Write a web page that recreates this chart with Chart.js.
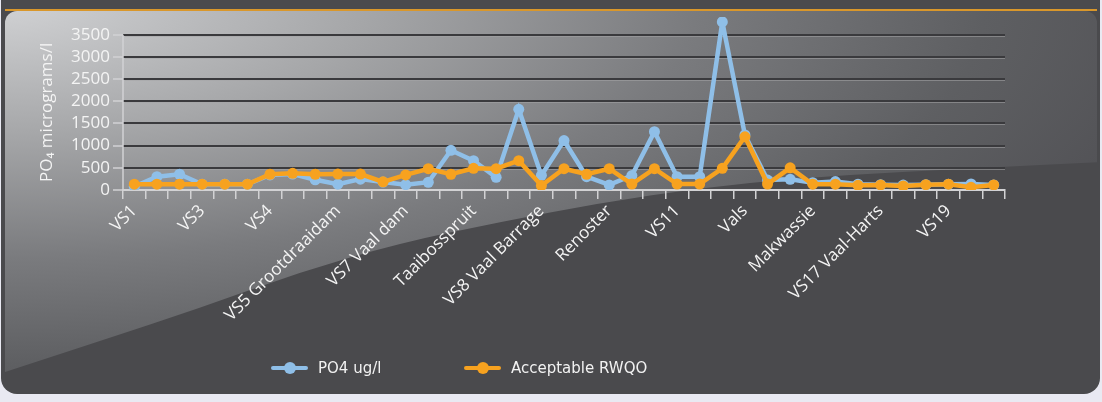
<!DOCTYPE html>
<html>
<head>
<meta charset="utf-8">
<script src="https://cdn.jsdelivr.net/npm/chart.js@4.4.0/dist/chart.umd.min.js"></script>
<style>
  html, body { margin: 0; padding: 0; background: #e9e9f2; }
  #wrap { position: relative; width: 1102px; height: 402px; }
  #legend { position: absolute; left: 0; top: 359px; width: 1102px; font: 15px "DejaVu Sans", sans-serif; color: #f2f2f2; }
  .item { position: absolute; top: 0; display: flex; align-items: center; white-space: nowrap; }
  .mark { position: relative; width: 37px; height: 4px; border-radius: 2px; margin-right: 10px; }
  .mark i { position: absolute; left: 13px; top: -4px; width: 12px; height: 12px; border-radius: 50%; }
</style>
</head>
<body>
<div id="wrap">
  <canvas id="canvas" width="1102" height="402"></canvas>
  <div id="legend"></div>
</div>
<script>
"use strict";

// sampling points along the river, only every third name is printed on the axis
var stations = [
  "VS1", "", "", "VS3", "", "", "VS4", "", "", "VS5 Grootdraaidam",
  "", "", "VS7 Vaal dam", "", "", "Taaibosspruit", "", "", "VS8 Vaal Barrage", "",
  "", "Renoster", "", "", "VS11", "", "", "Vals", "", "",
  "Makwassie", "", "", "VS17 Vaal-Harts", "", "", "VS19", "", ""
];

var po4 = [
  80, 300, 355, 130, 130, 130, 340, 360, 230, 130,
  245, 180, 120, 175, 895, 660, 285, 1820, 330, 1115,
  300, 115, 325, 1315, 300, 300, 3790, 1240, 225, 240,
  165, 190, 130, 120, 110, 120, 130, 135, 115
];

var rwqo = [
  130, 130, 130, 130, 130, 130, 355, 375, 355, 360,
  360, 185, 340, 480, 355, 490, 480, 660, 100, 480,
  355, 480, 135, 480, 135, 135, 490, 1200, 135, 500,
  130, 130, 105, 115, 90, 120, 130, 60, 115
];

var yTicks = [0, 500, 1000, 1500, 2000, 2500, 3000, 3500];
var yTitle = "PO\u2084 micrograms/l";

var txt = "#f4f4f4";
var axisGrey = "#d2d2d4";
var fontFam = '"Open Sans", sans-serif';

function smoothPath(ctx, pts) {
  ctx.lineTo(pts[0][0], pts[0][1]);
  for (var i = 1; i < pts.length - 1; i++) {
    var mx = (pts[i][0] + pts[i + 1][0]) / 2;
    var my = (pts[i][1] + pts[i + 1][1]) / 2;
    ctx.quadraticCurveTo(pts[i][0], pts[i][1], mx, my);
  }
  var last = pts[pts.length - 1];
  ctx.lineTo(last[0], last[1]);
}

// the grey panel behind the chart
var panelBg = {
  id: "panelBg",
  beforeDraw: function(chart) {
    var ctx = chart.ctx, w = chart.width, h = chart.height;
    ctx.save();
    ctx.fillStyle = "#e9e9f2";
    ctx.fillRect(0, 0, w, h);

    ctx.beginPath();
    ctx.roundRect(1, -20, w - 3, 414, 16);
    ctx.fillStyle = "#4a4a4d";
    ctx.fill();

    ctx.beginPath();
    ctx.roundRect(5, 11, w - 10, 381, 12);
    ctx.clip();

    var curve = [[5, 372], [100, 341], [200, 308], [300, 272], [400, 243], [500, 222],
                 [600, 203], [700, 188], [800, 178], [900, 172], [1000, 167], [1100, 162]];
    ctx.beginPath();
    ctx.moveTo(5, 11);
    smoothPath(ctx, curve);
    ctx.lineTo(1100, 11);
    ctx.closePath();

    ctx.save();
    ctx.scale(2.7, 1);
    var g = ctx.createRadialGradient(0, 0, 0, 0, 0, 445);
    g.addColorStop(0, "#d2d3d5");
    g.addColorStop(0.3, "#a6a7a9");
    g.addColorStop(0.58, "#7a7b7e");
    g.addColorStop(0.82, "#5e5f62");
    g.addColorStop(1, "#525256");
    ctx.fillStyle = g;
    ctx.fill();
    ctx.restore();

    ctx.restore();

    ctx.save();
    ctx.fillStyle = "#d9972b";
    ctx.fillRect(5, 9, w - 10, 2);
    ctx.restore();
  }
};

// light line under each dark grid line, the value axis line and its title
var gridShine = {
  id: "gridShine",
  beforeDatasetsDraw: function(chart) {
    var ctx = chart.ctx, area = chart.chartArea, y = chart.scales.y;
    var yTop = y.getPixelForValue(yTicks[yTicks.length - 1]);
    var yBot = y.getPixelForValue(0);
    ctx.save();
    ctx.strokeStyle = "rgba(165,165,168,0.55)";
    ctx.lineWidth = 1;
    y.ticks.forEach(function(t) {
      if (t.value === 0) return;
      var py = Math.round(y.getPixelForValue(t.value)) + 1.5;
      ctx.beginPath();
      ctx.moveTo(area.left + 2, py);
      ctx.lineTo(area.right, py);
      ctx.stroke();
    });
    ctx.strokeStyle = axisGrey;
    ctx.lineWidth = 1.5;
    ctx.beginPath();
    ctx.moveTo(area.left, yTop);
    ctx.lineTo(area.left, yBot);
    ctx.stroke();

    ctx.translate(y.left + 17, (yTop + yBot) / 2);
    ctx.rotate(-Math.PI / 2);
    ctx.fillStyle = txt;
    ctx.font = "17px " + fontFam;
    ctx.textAlign = "center";
    ctx.textBaseline = "middle";
    ctx.fillText(yTitle, 0, 0);
    ctx.restore();
  }
};

var ctx = document.getElementById("canvas");

var chart = new Chart(ctx, {
  type: "line",
  data: {
    labels: stations,
    datasets: [{
      label: "PO4 ug/l",
      data: po4,
      borderColor: "#8fbfe8",
      backgroundColor: "#8fbfe8",
      pointBackgroundColor: "#8fbfe8",
      borderWidth: 4.5,
      pointRadius: 5.5,
      pointBorderWidth: 0,
      tension: 0,
      order: 1
    }, {
      label: "Acceptable RWQO",
      data: rwqo,
      borderColor: "#f7a21f",
      backgroundColor: "#f7a21f",
      pointBackgroundColor: "#f7a21f",
      borderWidth: 4.5,
      pointRadius: 5.5,
      pointBorderWidth: 0,
      tension: 0,
      order: 0
    }]
  },
  options: {
    responsive: false,
    animation: false,
    layout: { padding: { left: 30, top: 17, right: 97, bottom: 0 } },
    plugins: {
      legend: { display: false }
    },
    scales: {
      x: {
        offset: true,
        grid: {
          offset: true,
          drawOnChartArea: false,
          drawTicks: true,
          tickLength: 9,
          tickColor: axisGrey,
          lineWidth: 1.5
        },
        border: { color: axisGrey, width: 2 },
        ticks: {
          autoSkip: false,
          maxRotation: 45,
          minRotation: 45,
          padding: 2,
          color: txt,
          font: { family: fontFam, size: 17 }
        },
        afterFit: function(s) { s.height = 212; }
      },
      y: {
        min: 0,
        max: 3900,
        afterBuildTicks: function(s) {
          s.ticks = yTicks.map(function(v) { return { value: v }; });
        },
        ticks: {
          autoSkip: false,
          padding: 3,
          color: txt,
          font: { family: fontFam, size: 17 },
          callback: function(v) { return String(v); }
        },
        grid: {
          color: function(c) { return c.tick && c.tick.value === 0 ? "rgba(0,0,0,0)" : "#3a3a3d"; },
          lineWidth: 2,
          drawTicks: true,
          tickLength: 10,
          tickColor: axisGrey,
          tickWidth: 1.5
        },
        border: { display: false },
        afterFit: function(s) { s.width = 93; }
      }
    }
  },
  plugins: [panelBg, gridShine]
});

// legend drawn as html, placed under the plot like the original
var legendLeft = [271, 464];
var legendEl = document.getElementById("legend");
chart.data.datasets.forEach(function(ds, i) {
  var item = document.createElement("div");
  item.className = "item";
  item.style.left = legendLeft[i] + "px";
  item.innerHTML = '<div class="mark" style="background:' + ds.borderColor + '"><i style="background:' +
    ds.borderColor + '"></i></div><span>' + ds.label + "</span>";
  legendEl.appendChild(item);
});
</script>
</body>
</html>
